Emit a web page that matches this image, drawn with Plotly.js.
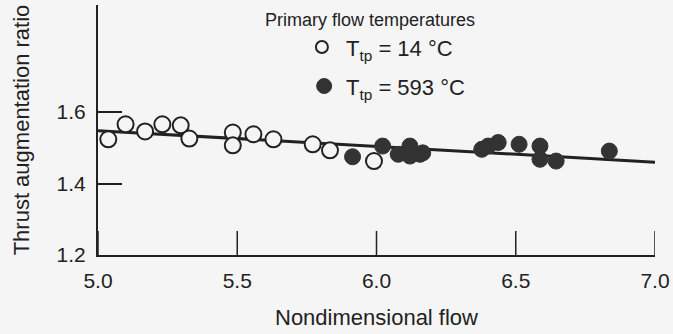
<!DOCTYPE html>
<html>
<head>
<meta charset="utf-8">
<script src="https://cdn.plot.ly/plotly-3.0.1.min.js"></script>
<style>html,body{margin:0;padding:0;background:#f5f5f5;}#chart{width:673px;height:334px;}</style>
</head>
<body>
<div id="chart"></div>
<script>
// Open circles: primary flow temperature 14 °C
const coldFlowX = [5.037, 5.099, 5.169, 5.231, 5.297, 5.328, 5.484, 5.484, 5.558, 5.630, 5.771, 5.833, 5.991];
const coldFlowY = [1.524, 1.566, 1.546, 1.566, 1.563, 1.526, 1.543, 1.507, 1.538, 1.524, 1.510, 1.493, 1.463];
// Filled circles: primary flow temperature 593 °C
const hotFlowX = [5.914, 6.022, 6.078, 6.120, 6.120, 6.156, 6.166, 6.378, 6.401, 6.437, 6.512, 6.587, 6.587, 6.645, 6.836];
const hotFlowY = [1.475, 1.505, 1.482, 1.505, 1.477, 1.482, 1.486, 1.496, 1.505, 1.515, 1.510, 1.505, 1.468, 1.463, 1.491];
// Fitted trend line
const fitLineX = [5.0, 7.0];
const fitLineY = [1.548, 1.460];
const xTickVals = [5.0, 5.5, 6.0, 6.5, 7.0];
const xTickText = ["5.0", "5.5", "6.0", "6.5", "7.0"];
const yTickVals = [1.2, 1.4, 1.6];
const yTickText = ["1.2", "1.4", "1.6"];

const ink = '#222222';
const bg = '#f5f5f5';
const fontFam = 'Liberation Sans, Arial, Helvetica, sans-serif';

const traces = [
  {x: fitLineX, y: fitLineY, mode: 'lines', line: {color: ink, width: 3}, showlegend: false, hoverinfo: 'skip'},
  {x: coldFlowX, y: coldFlowY, mode: 'markers', showlegend: false,
   marker: {symbol: 'circle', size: 16, color: bg, line: {color: ink, width: 2}}},
  {x: hotFlowX, y: hotFlowY, mode: 'markers', showlegend: false,
   marker: {symbol: 'circle', size: 16, color: '#333333', line: {color: '#333333', width: 1}}}
];

// x-axis tick marks drawn inward (from tick value array)
const xTickShapes = xTickVals.map(v => ({
  type: 'line', xref: 'x', yref: 'paper', x0: v, x1: v, y0: 0, y1: 0.096,
  line: {color: ink, width: 1.5}
}));

const layout = {
  width: 673, height: 334,
  margin: {l: 98, r: 18, t: 5, b: 79},
  paper_bgcolor: bg, plot_bgcolor: bg,
  font: {family: fontFam, color: ink},
  showlegend: false,
  xaxis: {
    range: [5.0, 7.0], tickvals: xTickVals, ticktext: xTickText,
    ticks: '',
    showline: true, linecolor: ink, linewidth: 2, showgrid: false, zeroline: false,
    tickfont: {size: 21, color: ink}, ticklabelstandoff: 6,
    title: {text: 'Nondimensional flow', font: {size: 22, color: ink}, standoff: 18}
  },
  yaxis: {
    range: [1.2, 1.9], tickvals: yTickVals, ticktext: yTickText,
    ticks: 'inside', ticklen: 24, tickwidth: 2, tickcolor: ink,
    showline: true, linecolor: ink, linewidth: 2, showgrid: false, zeroline: false,
    tickfont: {size: 21, color: ink}, ticklabelstandoff: 6,
    title: {text: 'Thrust augmentation ratio', font: {size: 22, color: ink}, standoff: 21}
  },
  annotations: [
    {xref: 'paper', yref: 'paper', x: 0.296, y: 0.94, xanchor: 'left', yanchor: 'middle',
     text: 'Primary flow temperatures', showarrow: false, font: {size: 18, color: ink}},
    {xref: 'paper', yref: 'paper', x: 0.441, y: 0.82, xanchor: 'left', yanchor: 'middle',
     text: 'T<sub>tp</sub> = 14 °C', showarrow: false, font: {size: 22, color: ink}},
    {xref: 'paper', yref: 'paper', x: 0.441, y: 0.664, xanchor: 'left', yanchor: 'middle',
     text: 'T<sub>tp</sub> = 593 °C', showarrow: false, font: {size: 22, color: ink}}
  ],
  shapes: xTickShapes.concat([
    {type: 'circle', xref: 'paper', yref: 'paper', xsizemode: 'pixel', ysizemode: 'pixel',
     xanchor: 0.402, yanchor: 0.832, x0: -6, x1: 6, y0: -6, y1: 6,
     line: {color: ink, width: 2}, fillcolor: bg},
    {type: 'circle', xref: 'paper', yref: 'paper', xsizemode: 'pixel', ysizemode: 'pixel',
     xanchor: 0.406, yanchor: 0.676, x0: -7.5, x1: 7.5, y0: -7.5, y1: 7.5,
     line: {color: '#333333', width: 1}, fillcolor: '#333333'}
  ])
};

Plotly.newPlot('chart', traces, layout, {staticPlot: true, displayModeBar: false});
</script>
</body>
</html>
